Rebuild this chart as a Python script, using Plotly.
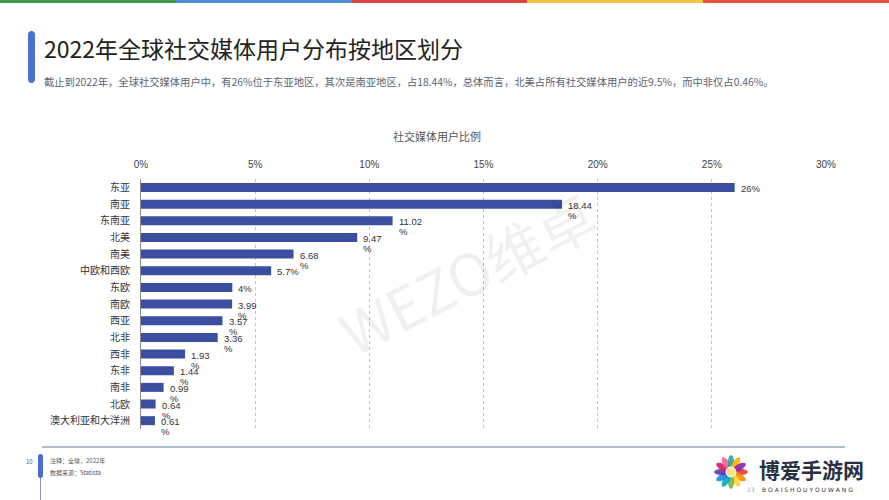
import plotly.graph_objects as go
import math

# ---------------- data ----------------
regions = ["东亚", "南亚", "东南亚", "北美", "南美", "中欧和西欧", "东欧", "南欧",
           "西亚", "北非", "西非", "东非", "南非", "北欧", "澳大利亚和大洋洲"]
shares = [26, 18.44, 11.02, 9.47, 6.68, 5.7, 4, 3.99, 3.57, 3.36, 1.93, 1.44, 0.99, 0.64, 0.61]
x_ticks = [0, 5, 10, 15, 20, 25, 30]
x_tick_labels = ["0%", "5%", "10%", "15%", "20%", "25%", "30%"]

title = "2022年全球社交媒体用户分布按地区划分"
subtitle = ("截止到2022年，全球社交媒体用户中，有26%位于东亚地区，其次是南亚地区，占18.44%，"
            "总体而言，北美占所有社交媒体用户的近9.5%，而中非仅占0.46%。")
chart_title = "社交媒体用户比例"
note1 = "注释：全球，2022年"
note2 = "数据来源：Statista"
page_no = "10"

# ---------------- layout geometry ----------------
W, H = 889, 500
L, R, T, B = 141, 63, 179, 71
PW, PH = W - L - R, H - T - B


def px(x):
    return (x - L) / PW


def py(y):
    return (H - B - y) / PH


FONT = "Noto Sans CJK SC"
NUMFONT = "Liberation Sans, Arial"
BAR = "#3B4FA0"

fig = go.Figure()
fig.add_trace(go.Bar(
    x=shares, y=regions, orientation="h",
    marker=dict(color=BAR, line=dict(width=0)),
    hoverinfo="x+y",
))

annotations = []
# value labels (narrow label box wraps the "%" onto a second line, as in the reference)
for r, v in zip(regions, shares):
    s = f"{v:g}"
    wrapped = len(s + "%") > 4
    first = s if wrapped else s + "%"
    annotations.append(dict(
        x=v, y=r, xref="x", yref="y", text=first, showarrow=False,
        xanchor="left", yanchor="middle", xshift=4, yshift=-1, align="left",
        font=dict(family=NUMFONT, size=9.5, color="#333333"),
    ))
    if wrapped:
        annotations.append(dict(
            x=v, y=r, xref="x", yref="y", text="%", showarrow=False,
            xanchor="left", yanchor="middle", xshift=4, yshift=-11, align="left",
            font=dict(family=NUMFONT, size=9.5, color="#333333"),
        ))

# titles and texts
annotations += [
    dict(x=px(42), y=py(48), xref="paper", yref="paper", text=title, showarrow=False,
         xanchor="left", yanchor="middle", font=dict(family=FONT, size=23, color="#222222")),
    dict(x=px(42), y=py(81), xref="paper", yref="paper", text=subtitle, showarrow=False,
         xanchor="left", yanchor="middle", font=dict(family=FONT, size=10.3, color="#5a6272")),
    dict(x=px(437), y=py(136), xref="paper", yref="paper", text=chart_title, showarrow=False,
         xanchor="center", yanchor="middle", font=dict(family=FONT, size=11, color="#555555")),
    dict(x=px(48), y=py(460), xref="paper", yref="paper", text=note1, showarrow=False,
         xanchor="left", yanchor="middle", font=dict(family=FONT, size=6, color="#555555")),
    dict(x=px(48), y=py(472), xref="paper", yref="paper", text=note2, showarrow=False,
         xanchor="left", yanchor="middle", font=dict(family=FONT, size=6, color="#555555")),
    dict(x=px(35), y=py(461), xref="paper", yref="paper", text=page_no, showarrow=False,
         xanchor="right", yanchor="middle", font=dict(family=FONT, size=6, color="#555555")),
    # watermark
    dict(x=px(467), y=py(272), xref="paper", yref="paper", text="WEZO维卓", showarrow=False,
         textangle=-27, xanchor="center", yanchor="middle",
         font=dict(family=FONT, size=58, color="rgba(0,0,0,0.06)")),
    # logo text
    dict(x=px(757), y=py(469), xref="paper", yref="paper", text="<b>博爱手游网</b>", showarrow=False,
         xanchor="left", yanchor="middle", font=dict(family=FONT, size=21, color="#263040")),
    dict(x=px(760), y=py(489), xref="paper", yref="paper", text="B O A I S H O U Y O U W A N G",
         showarrow=False, xanchor="left", yanchor="middle",
         font=dict(family="DejaVu Sans", size=6, color="#333333")),
    dict(x=px(757), y=py(489), xref="paper", yref="paper", text="23", showarrow=False,
         xanchor="right", yanchor="middle", font=dict(family="DejaVu Sans", size=6, color="#aaaaaa")),
]

shapes = []
# top colour stripe
stripe = [("#3f9a4a", 0, 176), ("#4a8fd8", 176, 352), ("#d8463d", 352, 527),
          ("#f4c244", 527, 703), ("#e0523b", 703, 889)]
for c, x0, x1 in stripe:
    shapes.append(dict(type="rect", xref="paper", yref="paper", x0=px(x0), x1=px(x1),
                       y0=py(3), y1=py(0), fillcolor=c, line=dict(width=0), layer="above"))


def rounded_vbar(x0, x1, y0, y1, color):
    r = (x1 - x0) / 2
    cx = (x0 + x1) / 2
    pts = []
    for i in range(0, 181, 15):
        a = math.radians(180 + i)
        pts.append((cx + r * math.cos(a), y0 + r + r * math.sin(a)))
    for i in range(0, 181, 15):
        a = math.radians(i)
        pts.append((cx + r * math.cos(a), y1 - r + r * math.sin(a)))
    d = "M " + " L ".join(f"{px(x):.5f},{py(y):.5f}" for x, y in pts) + " Z"
    return dict(type="path", xref="paper", yref="paper", path=d, fillcolor=color,
                line=dict(width=0), layer="above")


shapes.append(rounded_vbar(28, 35, 31, 83, "#4a72c8"))
# footer line and marker
shapes.append(dict(type="line", xref="paper", yref="paper", x0=px(42), x1=px(845),
                   y0=py(447), y1=py(447), line=dict(color="#9aa8bc", width=1.5)))
shapes.append(dict(type="line", xref="paper", yref="paper", x0=px(40.5), x1=px(40.5),
                   y0=py(470), y1=py(500), line=dict(color="#8a96aa", width=1)))
shapes.append(rounded_vbar(38, 43, 454, 478, "#4a6fd0"))

# logo flower (decorative)
petal_cols = ["#e53935", "#fb8c00", "#fdd835", "#7cb342", "#00acc1", "#1e88e5",
              "#5e35b1", "#d81b60", "#f06292", "#26a69a", "#ffb300", "#8e24aa"]
fcx, fcy = 731, 472
for i, c in enumerate(petal_cols):
    a = 2 * math.pi * i / len(petal_cols)
    pts = []
    for k in range(0, 361, 30):
        t = math.radians(k)
        ex, ey = 8 * math.cos(t), 3.2 * math.sin(t)
        rx = ex * math.cos(a) - ey * math.sin(a) + 9 * math.cos(a)
        ry = ex * math.sin(a) + ey * math.cos(a) + 9 * math.sin(a)
        pts.append((fcx + rx, fcy + ry))
    d = "M " + " L ".join(f"{px(x):.5f},{py(y):.5f}" for x, y in pts) + " Z"
    shapes.append(dict(type="path", xref="paper", yref="paper", path=d, fillcolor=c,
                       opacity=0.9, line=dict(width=0), layer="above"))
shapes.append(dict(type="circle", xref="paper", yref="paper", x0=px(fcx - 5), x1=px(fcx + 5),
                   y0=py(fcy + 5), y1=py(fcy - 5), fillcolor="#ffe082",
                   line=dict(color="#ffffff", width=1), layer="above"))

fig.update_layout(
    width=W, height=H,
    margin=dict(l=L, r=R, t=T, b=B, pad=0),
    paper_bgcolor="white", plot_bgcolor="white",
    bargap=0.46, showlegend=False,
    font=dict(family=FONT),
    annotations=annotations, shapes=shapes,
    xaxis=dict(
        side="top", range=[0, 30], tickvals=x_ticks, ticktext=x_tick_labels,
        showgrid=True, gridcolor="#c4c4c4", griddash="dot", gridwidth=1,
        zeroline=False, showline=False, ticks="", ticklabelstandoff=8,
        tickfont=dict(family=NUMFONT, size=10, color="#444444"),
        fixedrange=True,
    ),
    yaxis=dict(
        type="category", categoryorder="array", categoryarray=regions,
        autorange="reversed", showgrid=False, zeroline=False,
        showline=True, linecolor="#8a8a8a", linewidth=1, ticks="",
        ticklabelstandoff=8,
        tickfont=dict(family=FONT, size=10, color="#333333"),
        fixedrange=True,
    ),
)

fig.write_html("out.html")
